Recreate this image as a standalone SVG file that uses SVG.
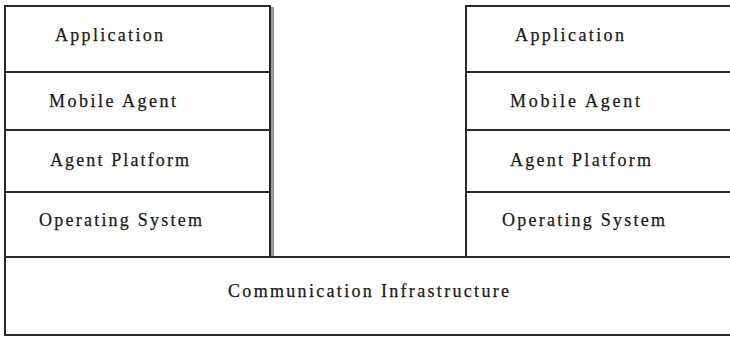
<svg xmlns="http://www.w3.org/2000/svg" width="730" height="337" viewBox="0 0 730 337">
  <style>
    .box { fill: #ffffff; stroke: #2a2a2a; stroke-width: 2; }
    .shadow { fill: none; stroke: #9a9a9a; stroke-width: 3; }
    .lbl { font-family: "Liberation Serif", "Times New Roman", serif; font-size: 18px; fill: #1a1a1a; stroke: #1a1a1a; stroke-width: 0.25; }
  </style>
  <rect width="730" height="337" fill="#ffffff"/>

  <!-- left host stack -->
  <g id="left-stack">
    <line class="shadow" x1="272.5" y1="7" x2="272.5" y2="257"/>
    <g id="left-application">
      <rect class="box" x="5" y="6" width="265" height="66"/>
      <text class="lbl" x="55" y="41" textLength="108" lengthAdjust="spacing">Application</text>
    </g>
    <g id="left-mobile-agent">
      <rect class="box" x="5" y="72" width="265" height="58"/>
      <text class="lbl" x="49" y="107" textLength="127" lengthAdjust="spacing">Mobile Agent</text>
    </g>
    <g id="left-agent-platform">
      <rect class="box" x="5" y="130" width="265" height="62"/>
      <text class="lbl" x="50" y="166" textLength="139" lengthAdjust="spacing">Agent Platform</text>
    </g>
    <g id="left-operating-system">
      <rect class="box" x="5" y="192" width="265" height="65"/>
      <text class="lbl" x="39" y="226" textLength="163" lengthAdjust="spacing">Operating System</text>
    </g>
  </g>

  <!-- right host stack -->
  <g id="right-stack">
    <g id="right-application">
      <rect class="box" x="466" y="6" width="268" height="66"/>
      <text class="lbl" x="515" y="41" textLength="109" lengthAdjust="spacing">Application</text>
    </g>
    <g id="right-mobile-agent">
      <rect class="box" x="466" y="72" width="268" height="58"/>
      <text class="lbl" x="510" y="107" textLength="130" lengthAdjust="spacing">Mobile Agent</text>
    </g>
    <g id="right-agent-platform">
      <rect class="box" x="466" y="130" width="268" height="62"/>
      <text class="lbl" x="510" y="166" textLength="141" lengthAdjust="spacing">Agent Platform</text>
    </g>
    <g id="right-operating-system">
      <rect class="box" x="466" y="192" width="268" height="65"/>
      <text class="lbl" x="502" y="226" textLength="163" lengthAdjust="spacing">Operating System</text>
    </g>
  </g>

  <!-- shared network layer -->
  <g id="communication-infrastructure">
    <rect class="box" x="5" y="257" width="729" height="78"/>
    <text class="lbl" x="228" y="297" textLength="281" lengthAdjust="spacing">Communication Infrastructure</text>
  </g>

  <g id="connectors"/>
</svg>
